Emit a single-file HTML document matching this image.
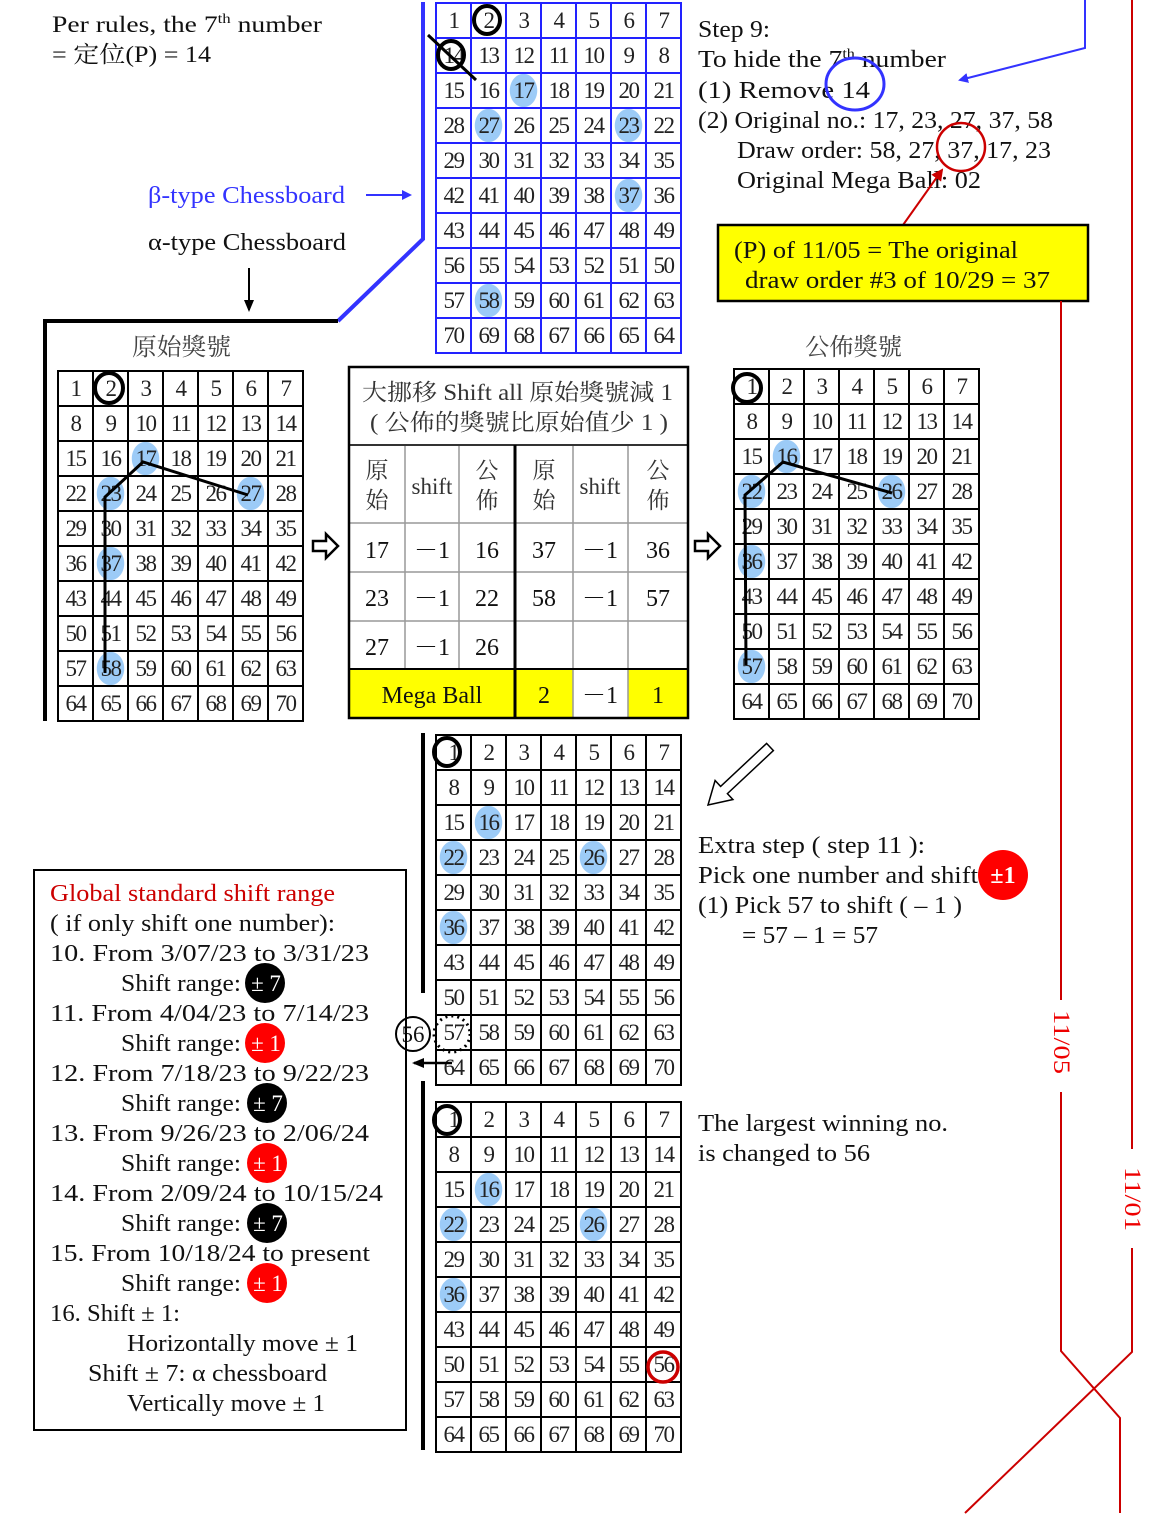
<!DOCTYPE html>
<html><head><meta charset="utf-8"><style>
body{margin:0;width:1154px;height:1515px;position:relative;background:#fff;overflow:hidden}
table.g{position:absolute;border-collapse:collapse;table-layout:fixed;width:247px;height:352px}
table.g td{border:2px solid #000;text-align:center;vertical-align:middle;padding:0;font:23px "Liberation Serif",serif;color:#222;letter-spacing:-1.5px;line-height:26px}
table.b td{border:2px solid #2222ff}
td.h{background:radial-gradient(ellipse 14px 17px at 50% 50%,#9ccbf7 96%,rgba(255,255,255,0) 100%)}
svg{position:absolute;left:0;top:0}
</style></head><body>

<table class="g b" style="left:435px;top:2px">
<tr><td>1</td><td>2</td><td>3</td><td>4</td><td>5</td><td>6</td><td>7</td></tr>
<tr><td>14</td><td>13</td><td>12</td><td>11</td><td>10</td><td>9</td><td>8</td></tr>
<tr><td>15</td><td>16</td><td class="h">17</td><td>18</td><td>19</td><td>20</td><td>21</td></tr>
<tr><td>28</td><td class="h">27</td><td>26</td><td>25</td><td>24</td><td class="h">23</td><td>22</td></tr>
<tr><td>29</td><td>30</td><td>31</td><td>32</td><td>33</td><td>34</td><td>35</td></tr>
<tr><td>42</td><td>41</td><td>40</td><td>39</td><td>38</td><td class="h">37</td><td>36</td></tr>
<tr><td>43</td><td>44</td><td>45</td><td>46</td><td>47</td><td>48</td><td>49</td></tr>
<tr><td>56</td><td>55</td><td>54</td><td>53</td><td>52</td><td>51</td><td>50</td></tr>
<tr><td>57</td><td class="h">58</td><td>59</td><td>60</td><td>61</td><td>62</td><td>63</td></tr>
<tr><td>70</td><td>69</td><td>68</td><td>67</td><td>66</td><td>65</td><td>64</td></tr>
</table>

<table class="g" style="left:57px;top:370px">
<tr><td>1</td><td>2</td><td>3</td><td>4</td><td>5</td><td>6</td><td>7</td></tr>
<tr><td>8</td><td>9</td><td>10</td><td>11</td><td>12</td><td>13</td><td>14</td></tr>
<tr><td>15</td><td>16</td><td class="h">17</td><td>18</td><td>19</td><td>20</td><td>21</td></tr>
<tr><td>22</td><td class="h">23</td><td>24</td><td>25</td><td>26</td><td class="h">27</td><td>28</td></tr>
<tr><td>29</td><td>30</td><td>31</td><td>32</td><td>33</td><td>34</td><td>35</td></tr>
<tr><td>36</td><td class="h">37</td><td>38</td><td>39</td><td>40</td><td>41</td><td>42</td></tr>
<tr><td>43</td><td>44</td><td>45</td><td>46</td><td>47</td><td>48</td><td>49</td></tr>
<tr><td>50</td><td>51</td><td>52</td><td>53</td><td>54</td><td>55</td><td>56</td></tr>
<tr><td>57</td><td class="h">58</td><td>59</td><td>60</td><td>61</td><td>62</td><td>63</td></tr>
<tr><td>64</td><td>65</td><td>66</td><td>67</td><td>68</td><td>69</td><td>70</td></tr>
</table>

<table class="g" style="left:733px;top:368px">
<tr><td>1</td><td>2</td><td>3</td><td>4</td><td>5</td><td>6</td><td>7</td></tr>
<tr><td>8</td><td>9</td><td>10</td><td>11</td><td>12</td><td>13</td><td>14</td></tr>
<tr><td>15</td><td class="h">16</td><td>17</td><td>18</td><td>19</td><td>20</td><td>21</td></tr>
<tr><td class="h">22</td><td>23</td><td>24</td><td>25</td><td class="h">26</td><td>27</td><td>28</td></tr>
<tr><td>29</td><td>30</td><td>31</td><td>32</td><td>33</td><td>34</td><td>35</td></tr>
<tr><td class="h">36</td><td>37</td><td>38</td><td>39</td><td>40</td><td>41</td><td>42</td></tr>
<tr><td>43</td><td>44</td><td>45</td><td>46</td><td>47</td><td>48</td><td>49</td></tr>
<tr><td>50</td><td>51</td><td>52</td><td>53</td><td>54</td><td>55</td><td>56</td></tr>
<tr><td class="h">57</td><td>58</td><td>59</td><td>60</td><td>61</td><td>62</td><td>63</td></tr>
<tr><td>64</td><td>65</td><td>66</td><td>67</td><td>68</td><td>69</td><td>70</td></tr>
</table>

<table class="g" style="left:435px;top:734px">
<tr><td>1</td><td>2</td><td>3</td><td>4</td><td>5</td><td>6</td><td>7</td></tr>
<tr><td>8</td><td>9</td><td>10</td><td>11</td><td>12</td><td>13</td><td>14</td></tr>
<tr><td>15</td><td class="h">16</td><td>17</td><td>18</td><td>19</td><td>20</td><td>21</td></tr>
<tr><td class="h">22</td><td>23</td><td>24</td><td>25</td><td class="h">26</td><td>27</td><td>28</td></tr>
<tr><td>29</td><td>30</td><td>31</td><td>32</td><td>33</td><td>34</td><td>35</td></tr>
<tr><td class="h">36</td><td>37</td><td>38</td><td>39</td><td>40</td><td>41</td><td>42</td></tr>
<tr><td>43</td><td>44</td><td>45</td><td>46</td><td>47</td><td>48</td><td>49</td></tr>
<tr><td>50</td><td>51</td><td>52</td><td>53</td><td>54</td><td>55</td><td>56</td></tr>
<tr><td>57</td><td>58</td><td>59</td><td>60</td><td>61</td><td>62</td><td>63</td></tr>
<tr><td>64</td><td>65</td><td>66</td><td>67</td><td>68</td><td>69</td><td>70</td></tr>
</table>

<table class="g" style="left:435px;top:1101px">
<tr><td>1</td><td>2</td><td>3</td><td>4</td><td>5</td><td>6</td><td>7</td></tr>
<tr><td>8</td><td>9</td><td>10</td><td>11</td><td>12</td><td>13</td><td>14</td></tr>
<tr><td>15</td><td class="h">16</td><td>17</td><td>18</td><td>19</td><td>20</td><td>21</td></tr>
<tr><td class="h">22</td><td>23</td><td>24</td><td>25</td><td class="h">26</td><td>27</td><td>28</td></tr>
<tr><td>29</td><td>30</td><td>31</td><td>32</td><td>33</td><td>34</td><td>35</td></tr>
<tr><td class="h">36</td><td>37</td><td>38</td><td>39</td><td>40</td><td>41</td><td>42</td></tr>
<tr><td>43</td><td>44</td><td>45</td><td>46</td><td>47</td><td>48</td><td>49</td></tr>
<tr><td>50</td><td>51</td><td>52</td><td>53</td><td>54</td><td>55</td><td>56</td></tr>
<tr><td>57</td><td>58</td><td>59</td><td>60</td><td>61</td><td>62</td><td>63</td></tr>
<tr><td>64</td><td>65</td><td>66</td><td>67</td><td>68</td><td>69</td><td>70</td></tr>
</table>

<svg width="1154" height="1515" viewBox="0 0 1154 1515" font-family="Liberation Serif, Noto Serif CJK SC, serif" font-size="23" fill="#111">
<defs>
<marker id="ab" markerWidth="10" markerHeight="10" refX="8" refY="5" orient="auto" markerUnits="userSpaceOnUse"><path d="M0,0 L10,5 L0,10 z" fill="#3333ff"/></marker>
<marker id="ar" markerWidth="12" markerHeight="12" refX="10" refY="6" orient="auto" markerUnits="userSpaceOnUse"><path d="M0,0 L12,6 L0,12 z" fill="#c00"/></marker>
<marker id="ak" markerWidth="12" markerHeight="12" refX="10" refY="6" orient="auto" markerUnits="userSpaceOnUse"><path d="M0,1 L12,6 L0,11 z" fill="#000"/></marker>
</defs>

<text x="52" y="32" textLength="270" lengthAdjust="spacingAndGlyphs">Per rules, the 7<tspan font-size="14" dy="-9">th</tspan><tspan dy="9">  number</tspan></text>
<text x="52" y="62" textLength="159" lengthAdjust="spacingAndGlyphs">= 定位(P) =  14</text>
<text x="148" y="203" fill="#3333ff" font-size="24" textLength="197" lengthAdjust="spacingAndGlyphs">β-type Chessboard</text>
<line x1="366" y1="195" x2="410" y2="195" stroke="#3333ff" stroke-width="2" marker-end="url(#ab)"/>
<text x="148" y="250" font-size="24" textLength="198" lengthAdjust="spacingAndGlyphs">α-type Chessboard</text>
<line x1="249" y1="268" x2="249" y2="310" stroke="#000" stroke-width="2" marker-end="url(#ak)"/>
<text x="132" y="355" font-size="24" fill="#444" textLength="99" lengthAdjust="spacingAndGlyphs">原始獎號</text>
<polyline points="423,2 423,239 338,321" fill="none" stroke="#3333ff" stroke-width="4"/>
<polyline points="338,321 45,321 45,721" fill="none" stroke="#000" stroke-width="4"/>

<ellipse cx="487" cy="20" rx="13" ry="14" fill="none" stroke="#000" stroke-width="4"/>
<ellipse cx="451" cy="55" rx="13" ry="14" fill="none" stroke="#000" stroke-width="4"/>
<line x1="428" y1="35" x2="476" y2="80" stroke="#000" stroke-width="3"/>

<ellipse cx="109" cy="388" rx="14" ry="15" fill="none" stroke="#000" stroke-width="4"/>
<polyline points="248,495 143,462 105,497 105,673" fill="none" stroke="#000" stroke-width="3"/>

<polygon points="313,541 326,541 326,534 338,546 326,558 326,551 313,551" fill="#fff" stroke="#000" stroke-width="2.5"/>
<polygon points="695,541 708,541 708,534 720,546 708,558 708,551 695,551" fill="#fff" stroke="#000" stroke-width="2.5"/>

<rect x="349" y="367" width="339" height="351" fill="#fff" stroke="#000" stroke-width="2"/>
<rect x="350" y="670" width="165" height="47" fill="#ffff00"/>
<rect x="515" y="670" width="58" height="47" fill="#ffff00"/>
<rect x="628" y="670" width="59" height="47" fill="#ffff00"/>
<g stroke="#999" stroke-width="1.5">
<line x1="349" y1="523" x2="688" y2="523"/>
<line x1="349" y1="572" x2="688" y2="572"/>
<line x1="349" y1="621" x2="688" y2="621"/>
<line x1="405" y1="445" x2="405" y2="670"/>
<line x1="459" y1="445" x2="459" y2="670"/>
<line x1="573" y1="445" x2="573" y2="718"/>
<line x1="628" y1="445" x2="628" y2="718"/>
</g>
<line x1="349" y1="445" x2="688" y2="445" stroke="#333" stroke-width="2"/>
<line x1="349" y1="669" x2="688" y2="669" stroke="#000" stroke-width="2"/>
<line x1="515" y1="445" x2="515" y2="718" stroke="#000" stroke-width="3"/>
<rect x="349" y="367" width="339" height="351" fill="none" stroke="#000" stroke-width="2.5"/>
<g fill="#333" font-size="23">
<text x="362" y="400" textLength="311" lengthAdjust="spacingAndGlyphs">大挪移 Shift all 原始獎號減 1</text>
<text x="370" y="430" textLength="298" lengthAdjust="spacingAndGlyphs">( 公佈的獎號比原始值少 1 )</text>
</g>
<g fill="#333" text-anchor="middle" font-size="23">
<text x="377" y="478">原</text><text x="377" y="508">始</text>
<text x="432" y="494">shift</text>
<text x="487" y="478">公</text><text x="487" y="508">佈</text>
<text x="544" y="478">原</text><text x="544" y="508">始</text>
<text x="600" y="494">shift</text>
<text x="658" y="478">公</text><text x="658" y="508">佈</text>
</g>
<g fill="#111" text-anchor="middle" font-size="24">
<text x="377" y="558">17</text><text x="432" y="558">－1</text><text x="487" y="558">16</text>
<text x="544" y="558">37</text><text x="600" y="558">－1</text><text x="658" y="558">36</text>
<text x="377" y="606">23</text><text x="432" y="606">－1</text><text x="487" y="606">22</text>
<text x="544" y="606">58</text><text x="600" y="606">－1</text><text x="658" y="606">57</text>
<text x="377" y="655">27</text><text x="432" y="655">－1</text><text x="487" y="655">26</text>
<text x="432" y="703">Mega Ball</text><text x="544" y="703">2</text><text x="600" y="703">－1</text><text x="658" y="703">1</text>
</g>

<g font-size="24">
<text x="698" y="37" textLength="72" lengthAdjust="spacingAndGlyphs">Step 9:</text>
<text x="698" y="67" textLength="248" lengthAdjust="spacingAndGlyphs">To hide the 7<tspan font-size="14" dy="-9">th</tspan><tspan dy="9">  number</tspan></text>
<text x="698" y="98" textLength="172" lengthAdjust="spacingAndGlyphs">(1)  Remove   14</text>
<text x="698" y="128" textLength="355" lengthAdjust="spacingAndGlyphs">(2) Original no.: 17, 23, 27, 37, 58</text>
<text x="737" y="158" textLength="314" lengthAdjust="spacingAndGlyphs">Draw order: 58, 27, 37, 17, 23</text>
<text x="737" y="188" textLength="244" lengthAdjust="spacingAndGlyphs">Original Mega Ball:  02</text>
</g>
<ellipse cx="855" cy="84" rx="29" ry="26" fill="none" stroke="#3333ff" stroke-width="3"/>
<ellipse cx="961" cy="147" rx="24" ry="24" fill="none" stroke="#c00" stroke-width="2.5"/>
<line x1="903" y1="225" x2="942" y2="170" stroke="#c00" stroke-width="2" marker-end="url(#ar)"/>
<polyline points="1085,0 1085,48 960,80" fill="none" stroke="#3333ff" stroke-width="2" marker-end="url(#ab)"/>
<rect x="718" y="225" width="370" height="76" fill="#ffff00" stroke="#000" stroke-width="2.5"/>
<text x="734" y="258" font-size="24" textLength="284" lengthAdjust="spacingAndGlyphs">(P) of 11/05 = The original</text>
<text x="745" y="288" font-size="24" textLength="305" lengthAdjust="spacingAndGlyphs">draw order #3 of 10/29 = 37</text>
<text x="805" y="355" font-size="24" fill="#444" textLength="97" lengthAdjust="spacingAndGlyphs">公佈獎號</text>

<ellipse cx="747" cy="388" rx="14" ry="14" fill="none" stroke="#000" stroke-width="4"/>
<polyline points="892,493 783,462 745,495 746,665" fill="none" stroke="#000" stroke-width="3"/>

<g stroke="#c00" stroke-width="2" fill="none">
<line x1="1061" y1="301" x2="1061" y2="1000"/>
<polyline points="1061,1092 1061,1351 1120,1418 1120,1513"/>
<line x1="1132" y1="0" x2="1132" y2="1149"/>
<polyline points="1132,1248 1132,1352 965,1513"/>
</g>
<text transform="translate(1054,1010) rotate(90)" fill="#e00" font-size="23" textLength="64" lengthAdjust="spacingAndGlyphs">11/05</text>
<text transform="translate(1125,1167) rotate(90)" fill="#e00" font-size="23" textLength="64" lengthAdjust="spacingAndGlyphs">11/01</text>

<polygon points="773.4,750.6 727.4,793.6 732.9,799.5 708,805 715.1,780.5 720.6,786.4 766.6,743.4" fill="#fff" stroke="#000" stroke-width="1.5"/>

<g font-size="24">
<text x="698" y="853" textLength="227" lengthAdjust="spacingAndGlyphs">Extra step ( step 11 ):</text>
<text x="698" y="883" textLength="280" lengthAdjust="spacingAndGlyphs">Pick one number and shift</text>
<text x="698" y="913" textLength="264" lengthAdjust="spacingAndGlyphs">(1) Pick 57 to shift ( – 1 )</text>
<text x="742" y="943" textLength="136" lengthAdjust="spacingAndGlyphs">= 57 – 1 = 57</text>
<text x="698" y="1131" textLength="250" lengthAdjust="spacingAndGlyphs">The largest winning no.</text>
<text x="698" y="1161" textLength="172" lengthAdjust="spacingAndGlyphs">is changed to 56</text>
</g>
<circle cx="1003" cy="875" r="25" fill="#f00"/>
<text x="1003" y="883" fill="#fff" text-anchor="middle" font-size="24" font-weight="bold">±1</text>

<line x1="423" y1="733" x2="423" y2="993" stroke="#000" stroke-width="4"/>
<line x1="423" y1="1081" x2="423" y2="1450" stroke="#000" stroke-width="4"/>
<ellipse cx="447" cy="752" rx="13" ry="14" fill="none" stroke="#000" stroke-width="4"/>
<ellipse cx="447" cy="1120" rx="13" ry="14" fill="none" stroke="#000" stroke-width="4"/>
<circle cx="663" cy="1367" r="15" fill="none" stroke="#c00" stroke-width="3.5"/>
<circle cx="452" cy="1034" r="18" fill="none" stroke="#000" stroke-width="3" stroke-dasharray="2,4"/>
<circle cx="413" cy="1034" r="17" fill="#fff" stroke="#000" stroke-width="2"/>
<text x="413" y="1042" text-anchor="middle">56</text>
<line x1="452" y1="1063" x2="414" y2="1063" stroke="#000" stroke-width="2.5" marker-end="url(#ak)"/>

<rect x="34" y="870" width="372" height="560" fill="none" stroke="#000" stroke-width="2"/>
<g font-size="24">
<text x="50" y="901" fill="#c00" textLength="285" lengthAdjust="spacingAndGlyphs">Global standard shift range</text>
<text x="50" y="931" textLength="285" lengthAdjust="spacingAndGlyphs">( if only shift one number):</text>
<text x="50" y="961" textLength="319" lengthAdjust="spacingAndGlyphs">10. From 3/07/23 to 3/31/23</text>
<text x="121" y="991" textLength="120" lengthAdjust="spacingAndGlyphs">Shift range:</text>
<text x="50" y="1021" textLength="319" lengthAdjust="spacingAndGlyphs">11. From 4/04/23 to 7/14/23</text>
<text x="121" y="1051" textLength="120" lengthAdjust="spacingAndGlyphs">Shift range:</text>
<text x="50" y="1081" textLength="319" lengthAdjust="spacingAndGlyphs">12. From 7/18/23 to 9/22/23</text>
<text x="121" y="1111" textLength="120" lengthAdjust="spacingAndGlyphs">Shift range:</text>
<text x="50" y="1141" textLength="319" lengthAdjust="spacingAndGlyphs">13. From 9/26/23 to 2/06/24</text>
<text x="121" y="1171" textLength="120" lengthAdjust="spacingAndGlyphs">Shift range:</text>
<text x="50" y="1201" textLength="333" lengthAdjust="spacingAndGlyphs">14. From 2/09/24 to 10/15/24</text>
<text x="121" y="1231" textLength="120" lengthAdjust="spacingAndGlyphs">Shift range:</text>
<text x="50" y="1261" textLength="320" lengthAdjust="spacingAndGlyphs">15. From 10/18/24 to present</text>
<text x="121" y="1291" textLength="120" lengthAdjust="spacingAndGlyphs">Shift range:</text>
<text x="50" y="1321" textLength="130" lengthAdjust="spacingAndGlyphs">16. Shift ± 1:</text>
<text x="127" y="1351" textLength="231" lengthAdjust="spacingAndGlyphs">Horizontally move ± 1</text>
<text x="88" y="1381" textLength="239" lengthAdjust="spacingAndGlyphs">Shift ± 7: α chessboard</text>
<text x="127" y="1411" textLength="198" lengthAdjust="spacingAndGlyphs">Vertically move ± 1</text>
</g>
<circle cx="265" cy="983" r="20" fill="#000"/><text x="266" y="991" fill="#fff" text-anchor="middle">± 7</text>
<circle cx="265" cy="1043" r="20" fill="#f00"/><text x="266" y="1051" fill="#fff" text-anchor="middle">± 1</text>
<circle cx="267" cy="1103" r="20" fill="#000"/><text x="268" y="1111" fill="#fff" text-anchor="middle">± 7</text>
<circle cx="267" cy="1163" r="20" fill="#f00"/><text x="268" y="1171" fill="#fff" text-anchor="middle">± 1</text>
<circle cx="267" cy="1223" r="20" fill="#000"/><text x="268" y="1231" fill="#fff" text-anchor="middle">± 7</text>
<circle cx="267" cy="1283" r="20" fill="#f00"/><text x="268" y="1291" fill="#fff" text-anchor="middle">± 1</text>
</svg>
</body></html>
